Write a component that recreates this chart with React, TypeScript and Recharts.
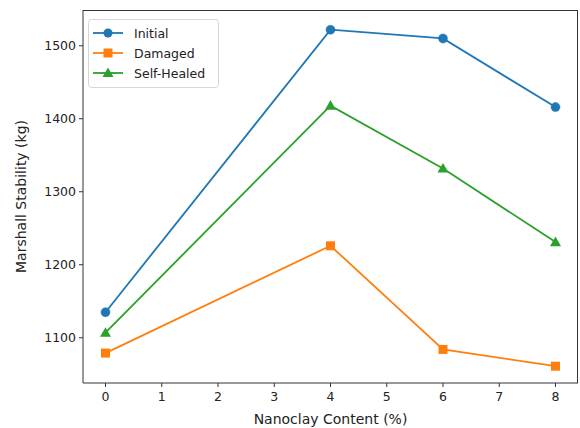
import React from 'react';
import {
  LineChart,
  Line,
  XAxis,
  YAxis,
} from 'recharts';

// Nanoclay content (%) and Marshall stability (kg) for each condition
const nanoclay = [0, 4, 6, 8];
const initial = [1135, 1522, 1510, 1416];
const damaged = [1079, 1226, 1084, 1061];
const selfHealed = [1107, 1418, 1332, 1231];

const xTicks = [0, 1, 2, 3, 4, 5, 6, 7, 8];
const yTicks = [1100, 1200, 1300, 1400, 1500];

const BLUE = '#1f77b4';
const ORANGE = '#ff7f0e';
const GREEN = '#2ca02c';
const FONT = '"DejaVu Sans", sans-serif';

const data = nanoclay.map((x, i) => ({
  x,
  initial: initial[i],
  damaged: damaged[i],
  selfHealed: selfHealed[i],
}));

function CircleDot(props: any) {
  const { cx, cy, key } = props;
  return <circle key={key} cx={cx} cy={cy} r={4.5} fill={BLUE} stroke={BLUE} strokeWidth={0.5} />;
}

function SquareDot(props: any) {
  const { cx, cy, key } = props;
  return <rect key={key} x={cx - 4.5} y={cy - 4.5} width={9} height={9} fill={ORANGE} />;
}

function TriangleDot(props: any) {
  const { cx, cy, key } = props;
  const s = 5.5;
  return (
    <polygon
      key={key}
      points={`${cx},${cy - s} ${cx - s},${cy + s * 0.75} ${cx + s},${cy + s * 0.75}`}
      fill={GREEN}
    />
  );
}

const legendItems = [
  { label: 'Initial', color: BLUE, shape: 'circle' },
  { label: 'Damaged', color: ORANGE, shape: 'square' },
  { label: 'Self-Healed', color: GREEN, shape: 'triangle' },
];

// matplotlib-style legend box, drawn over the plot area
function LegendBox() {
  return (
    <svg width={131} height={69} style={{ display: 'block' }}>
      <rect x={0.5} y={0.5} width={130} height={68} rx={3} fill="#fff" fillOpacity={0.8} stroke="#d6d6d6" />
      {legendItems.map((it, i) => {
        const y = 14 + i * 20;
        const cx = 20;
        return (
          <g key={it.label}>
            <line x1={5} x2={35} y1={y} y2={y} stroke={it.color} strokeWidth={1.8} />
            {it.shape === 'circle' && <circle cx={cx} cy={y} r={4.5} fill={it.color} />}
            {it.shape === 'square' && <rect x={cx - 4.5} y={y - 4.5} width={9} height={9} fill={it.color} />}
            {it.shape === 'triangle' && (
              <polygon points={`${cx},${y - 5.5} ${cx - 5.5},${y + 4} ${cx + 5.5},${y + 4}`} fill={it.color} />
            )}
            <text x={46} y={y + 4.5} fontSize={12.5} fontFamily={FONT} fill="#222">
              {it.label}
            </text>
          </g>
        );
      })}
    </svg>
  );
}

export default function App() {
  const tick = { fontSize: 12.5, fill: '#222', fontFamily: FONT };
  const labelStyle = { fontSize: 14, fill: '#222', fontFamily: FONT };
  return (
    <div style={{ position: 'relative', width: 580, height: 428, background: '#fff' }}>
      <style>{`body{margin:0}`}</style>
      <LineChart width={580} height={428} data={data} margin={{ top: 10, right: 2, left: 0, bottom: 0 }}>
        <XAxis
          dataKey="x"
          type="number"
          domain={[-0.4, 8.4]}
          ticks={xTicks}
          allowDataOverflow
          tick={tick}
          tickSize={4}
          tickMargin={5}
          stroke="#333"
          height={45}
          label={{ value: 'Nanoclay Content (%)', position: 'insideBottom', offset: 4, style: labelStyle }}
        />
        <YAxis
          type="number"
          domain={[1038, 1549]}
          ticks={yTicks}
          allowDataOverflow
          tick={tick}
          tickSize={4}
          tickMargin={3}
          stroke="#333"
          width={83}
          label={{ value: 'Marshall Stability (kg)', angle: -90, position: 'insideLeft', offset: 21, style: { ...labelStyle, textAnchor: 'middle' } }}
        />
        <Line dataKey="initial" stroke={BLUE} strokeWidth={1.8} dot={CircleDot} activeDot={false} isAnimationActive={false} />
        <Line dataKey="damaged" stroke={ORANGE} strokeWidth={1.8} dot={SquareDot} activeDot={false} isAnimationActive={false} />
        <Line dataKey="selfHealed" stroke={GREEN} strokeWidth={1.8} dot={TriangleDot} activeDot={false} isAnimationActive={false} />
      </LineChart>
      {/* plot frame (top and right spines) */}
      <div
        style={{
          position: 'absolute',
          left: 83,
          top: 10,
          width: 495,
          height: 373,
          borderTop: '1px solid #333',
          borderRight: '1px solid #333',
          boxSizing: 'border-box',
          pointerEvents: 'none',
        }}
      />
      <div style={{ position: 'absolute', left: 88, top: 19 }}>
        <LegendBox />
      </div>
    </div>
  );
}
